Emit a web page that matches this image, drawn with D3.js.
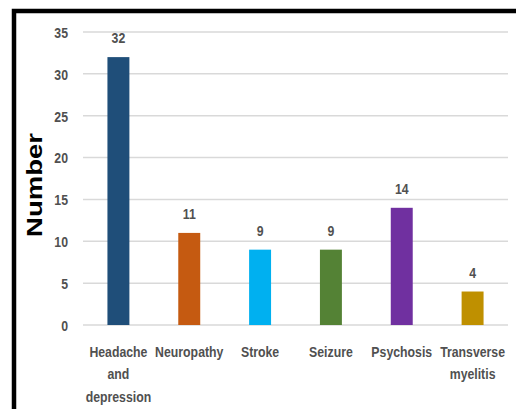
<!DOCTYPE html>
<html>
<head>
<meta charset="utf-8">
<script src="https://cdn.jsdelivr.net/npm/d3@7"></script>
<style>
  html, body { margin: 0; padding: 0; background: #fff; }
  svg { display: block; }
  .lbl { font-family: "Liberation Sans", Arial, sans-serif; font-weight: bold; fill: #505050; font-size: 15px; }
</style>
</head>
<body>
<svg id="chart" width="516" height="409"></svg>
<script>
// Neurological manifestations and their counts
const categories = ["Headache and depression", "Neuropathy", "Stroke", "Seizure", "Psychosis", "Transverse myelitis"];
const categoryLines = [["Headache", "and", "depression"], ["Neuropathy"], ["Stroke"], ["Seizure"], ["Psychosis"], ["Transverse", "myelitis"]];
const values = [32, 11, 9, 9, 14, 4];
const barColors = ["#1F4E79", "#C55A11", "#00B0F0", "#548235", "#7030A0", "#BF9000"];
const yTicks = [0, 5, 10, 15, 20, 25, 30, 35];
const yTitle = "Number";

const narrow = 0.82; // horizontal squeeze for the condensed label face

const svg = d3.select("#chart");

// outer frame
svg.append("rect")
  .attr("x", 14).attr("y", 11)
  .attr("width", 520).attr("height", 420)
  .attr("fill", "none").attr("stroke", "#000").attr("stroke-width", 4.5);

const plot = { left: 83, right: 508, top: 32, bottom: 325 };

const x = d3.scaleBand().domain(categories).range([plot.left, plot.right]).paddingInner(0.69).paddingOuter(0.345);
const y = d3.scaleLinear().domain([0, 35]).range([plot.bottom, plot.top]);

// gridlines
svg.append("g").selectAll("line").data(yTicks).join("line")
  .attr("x1", plot.left).attr("x2", plot.right)
  .attr("y1", d => y(d)).attr("y2", d => y(d))
  .attr("stroke", "#d9d9d9").attr("stroke-width", 1.5);

// y axis labels
const yAxis = svg.append("g").attr("transform", `translate(${plot.left - 15},0)`)
  .call(d3.axisLeft(y).tickValues(yTicks).tickSize(0).tickPadding(0));
yAxis.select(".domain").remove();
yAxis.selectAll(".tick text")
  .attr("class", "lbl")
  .attr("font-size", null)
  .attr("fill", null)
  .attr("dy", "0.36em")
  .attr("transform", `scale(${narrow},1)`);

// bars
svg.append("g").selectAll("rect").data(values).join("rect")
  .attr("x", (d, i) => x(categories[i]))
  .attr("y", d => y(d))
  .attr("width", x.bandwidth())
  .attr("height", d => y(0) - y(d))
  .attr("fill", (d, i) => barColors[i]);

// value labels
svg.append("g").selectAll("g").data(values).join("g")
  .attr("transform", (d, i) => `translate(${x(categories[i]) + x.bandwidth() / 2},${y(d) - 14}) scale(${narrow},1)`)
  .append("text")
  .attr("class", "lbl")
  .attr("text-anchor", "middle")
  .text(d => d);

// category labels
svg.append("g").selectAll("g").data(categories).join("g")
  .attr("transform", d => `translate(${x(d) + x.bandwidth() / 2},357) scale(${narrow},1)`)
  .each(function(d, i) {
    const t = d3.select(this).append("text")
      .attr("class", "lbl")
      .attr("text-anchor", "middle");
    categoryLines[i].forEach((line, j) => {
      t.append("tspan").attr("x", 0).attr("dy", j === 0 ? 0 : 22.5).text(line);
    });
  });

// y axis title
svg.append("text")
  .attr("transform", `translate(42,185) rotate(-90)`)
  .attr("text-anchor", "middle")
  .attr("font-family", "Liberation Sans, Arial, sans-serif")
  .attr("font-weight", "bold")
  .attr("font-size", 22)
  .attr("textLength", 104)
  .attr("lengthAdjust", "spacingAndGlyphs")
  .attr("fill", "#000")
  .text(yTitle);
</script>
</body>
</html>
